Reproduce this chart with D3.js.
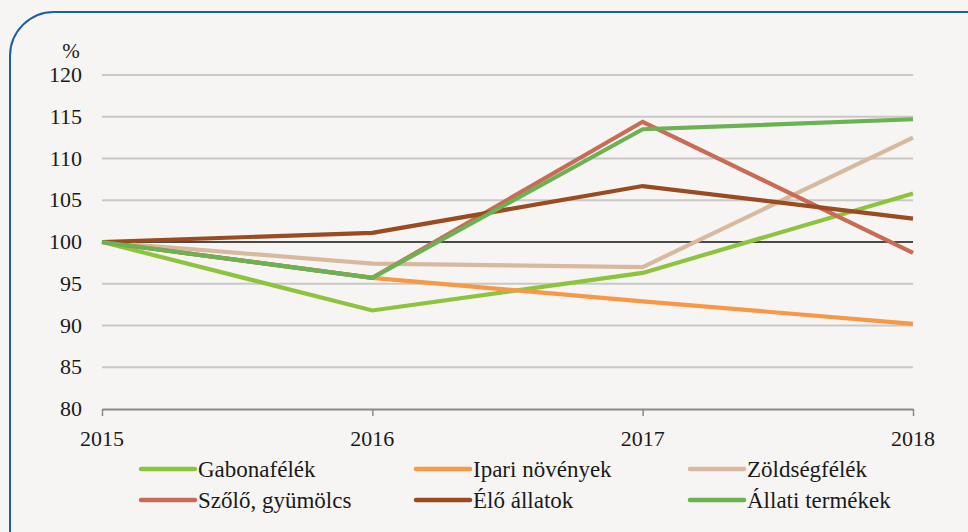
<!DOCTYPE html>
<html><head><meta charset="utf-8"><script src="https://cdn.jsdelivr.net/npm/d3@7"></script></head>
<body style="margin:0;background:#f6f5f3">
<script>
// data
var years = [2015, 2016, 2017, 2018];
var yTicks = [80, 85, 90, 95, 100, 105, 110, 115, 120];
var gabona = [100, 91.8, 96.3, 105.8];
var ipari = [100, 95.7, 92.9, 90.2];
var zoldseg = [100, 97.4, 97.0, 112.5];
var szolo = [100, 95.7, 114.4, 98.7];
var eloAllat = [100, 101.1, 106.7, 102.8];
var allatiTermek = [100, 95.7, 113.5, 114.7];

var seriesNames = ["Gabonafélék", "Ipari növények", "Zöldségfélék",
                   "Szőlő, gyümölcs", "Élő állatok", "Állati termékek"];
var seriesValues = [gabona, ipari, zoldseg, szolo, eloAllat, allatiTermek];
var colors = ["#8dc43e", "#f79846", "#d9b99e", "#c96b55", "#9a4b1f", "#6ab252"];

var FONT = "'Liberation Serif'";

var W = 968, H = 532;
var margin = {top: 75, right: 55, bottom: 123, left: 102},
    width = W - margin.left - margin.right,
    height = H - margin.top - margin.bottom;

var svg = d3.select("body").append("svg")
    .attr("width", W)
    .attr("height", H);

// background + rounded frame
svg.append("rect").attr("width", W).attr("height", H).attr("fill", "#f6f5f3");
svg.append("rect")
    .attr("x", 10).attr("y", 12)
    .attr("width", 1000).attr("height", 600)
    .attr("rx", 44).attr("ry", 44)
    .attr("fill", "none")
    .attr("stroke", "#1d5fa6")
    .attr("stroke-width", 2);

var x = d3.scaleLinear().domain([2015, 2018]).range([margin.left, margin.left + width]);
var y = d3.scaleLinear().domain([80, 120]).range([margin.top + height, margin.top]);

// gridlines
svg.selectAll("line.grid")
    .data(yTicks.filter(function(d) { return d > 80 && d !== 100; }))
    .enter().append("line")
    .attr("class", "grid")
    .attr("x1", x(2015)).attr("x2", x(2018))
    .attr("y1", function(d) { return y(d); })
    .attr("y2", function(d) { return y(d); })
    .attr("stroke", "#c9c8c6")
    .attr("stroke-width", 2);

// 100 reference line
svg.append("line")
    .attr("x1", x(2015)).attr("x2", x(2018))
    .attr("y1", y(100)).attr("y2", y(100))
    .attr("stroke", "#111")
    .attr("stroke-width", 1.3);

// x axis line and ticks (no text from d3 axis, labels drawn below)
var xAxis = svg.append("g")
    .attr("transform", "translate(0," + y(80) + ")")
    .call(d3.axisBottom(x).tickValues(years).tickFormat("").tickSize(7).tickSizeOuter(0));
xAxis.select(".domain").attr("stroke", "#8a8a8a").attr("stroke-width", 2);
xAxis.selectAll(".tick line").attr("stroke", "#8a8a8a").attr("stroke-width", 1.5);
xAxis.selectAll(".tick text").remove();

// y labels
svg.selectAll("text.ylab")
    .data(yTicks)
    .enter().append("text")
    .attr("class", "ylab")
    .attr("x", margin.left - 20)
    .attr("y", function(d) { return y(d) + 7; })
    .attr("text-anchor", "end")
    .attr("font-size", 22)
    .attr("fill", "#1a1a1a")
    .style("font-family", FONT)
    .text(function(d) { return d; });

svg.append("text")
    .attr("x", margin.left - 31).attr("y", margin.top - 17)
    .attr("text-anchor", "middle")
    .attr("font-size", 21)
    .attr("fill", "#1a1a1a")
    .style("font-family", FONT)
    .text("%");

// x labels
svg.selectAll("text.xlab")
    .data(years)
    .enter().append("text")
    .attr("class", "xlab")
    .attr("x", function(d) { return x(d); })
    .attr("y", y(80) + 37)
    .attr("text-anchor", "middle")
    .attr("font-size", 22)
    .attr("fill", "#1a1a1a")
    .style("font-family", FONT)
    .text(function(d) { return d; });

// lines
var line = d3.line()
    .x(function(d, i) { return x(years[i]); })
    .y(function(d) { return y(d); });

svg.selectAll("path.series")
    .data(seriesValues)
    .enter().append("path")
    .attr("class", "series")
    .attr("d", line)
    .attr("fill", "none")
    .attr("stroke", function(d, i) { return colors[i]; })
    .attr("stroke-width", 4.2)
    .attr("stroke-linejoin", "miter");

// legend
var legX = [141, 416, 690], legY = [469, 500];
svg.selectAll("line.leg")
    .data(seriesNames)
    .enter().append("line")
    .attr("class", "leg")
    .attr("x1", function(d, i) { return legX[i % 3]; })
    .attr("x2", function(d, i) { return legX[i % 3] + 54; })
    .attr("y1", function(d, i) { return legY[Math.floor(i / 3)]; })
    .attr("y2", function(d, i) { return legY[Math.floor(i / 3)]; })
    .attr("stroke", function(d, i) { return colors[i]; })
    .attr("stroke-width", 4.5)
    .attr("stroke-linecap", "round");
svg.selectAll("text.leg")
    .data(seriesNames)
    .enter().append("text")
    .attr("class", "leg")
    .attr("x", function(d, i) { return legX[i % 3] + 57; })
    .attr("y", function(d, i) { return legY[Math.floor(i / 3)] + 8; })
    .attr("font-size", 23)
    .attr("fill", "#1a1a1a")
    .style("font-family", FONT)
    .text(function(d) { return d; });
</script>
</body>
</html>
